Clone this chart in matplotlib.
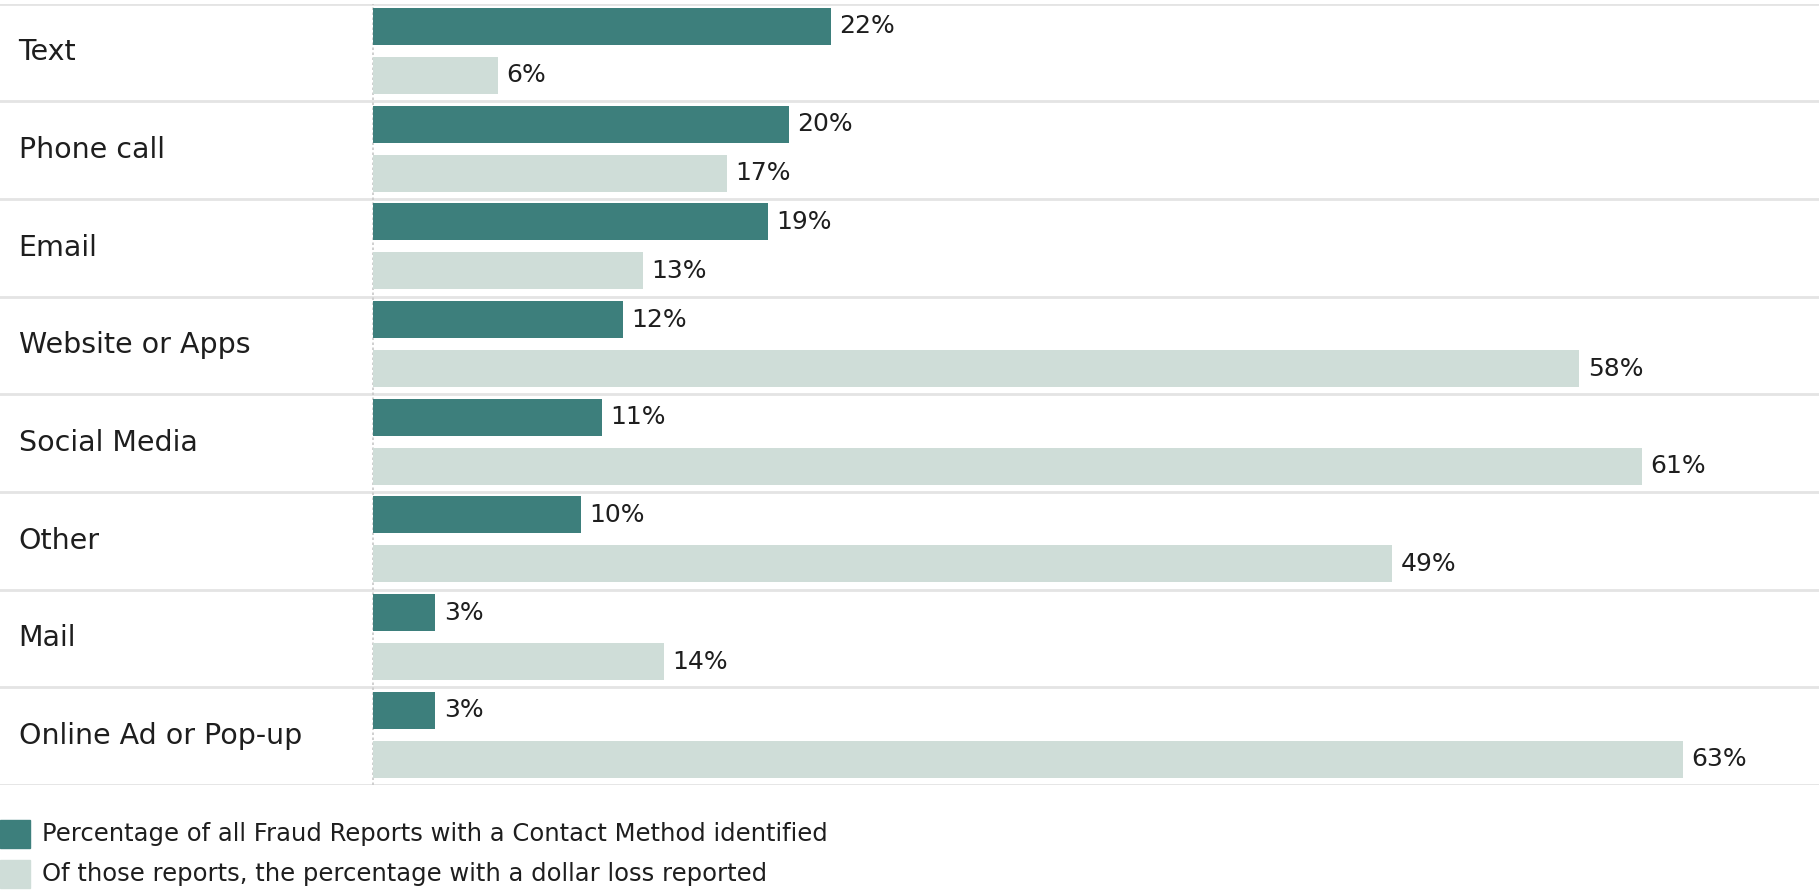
import matplotlib
matplotlib.use("Agg")
import matplotlib.pyplot as plt
from matplotlib.patches import Rectangle
from matplotlib.transforms import blended_transform_factory

categories = ["Text", "Phone call", "Email", "Website or Apps", "Social Media",
              "Other", "Mail", "Online Ad or Pop-up"]
pct_reports = [22, 20, 19, 12, 11, 10, 3, 3]
pct_loss = [6, 17, 13, 58, 61, 49, 14, 63]
series_names = ["Percentage of all Fraud Reports with a Contact Method identified",
                "Of those reports, the percentage with a dollar loss reported"]

DARK = "#3d7f7c"
LIGHT = "#cfddd8"
SEP = "#e4e4e4"
TXT = "#1e1e1e"

plt.rcParams['font.family'] = ['DejaVu Sans']

W, H = 1819, 890
fig = plt.figure(figsize=(W / 100, H / 100), dpi=100)

zero_px = 373.0
px_per = 20.8
xmin = -zero_px / px_per
xmax = (W - zero_px) / px_per

top_px, bot_px = 3.5, 785.0
ax = fig.add_axes([0, 1 - bot_px / H, 1, (bot_px - top_px) / H])
ax.set_xlim(xmin, xmax)
n = len(categories)
ax.set_ylim(n, 0)
ax.axis("off")

bh = 0.38
trans = blended_transform_factory(fig.transFigure, ax.transData)
for i, (cat, a, b) in enumerate(zip(categories, pct_reports, pct_loss)):
    ax.barh(i + 0.235, a, height=bh, left=0, color=DARK, zorder=3)
    ax.barh(i + 0.737, b, height=bh, left=0, color=LIGHT, zorder=3)
    ax.text(a + 0.4, i + 0.235, f"{a}%", va="center", ha="left",
            fontsize=18, color=TXT, zorder=4)
    ax.text(b + 0.4, i + 0.737, f"{b}%", va="center", ha="left",
            fontsize=18, color=TXT, zorder=4)
    ax.text(18.5 / W, i + 0.5, cat, transform=trans, va="center", ha="left",
            fontsize=20.5, color=TXT)

for k in range(n + 1):
    ax.axhline(k, color=SEP, lw=2, zorder=1)
ax.axvline(0, color="#c8c8c8", lw=1.2, ls=(0, (1.5, 1.5)), zorder=2)

# legend
for j, (name, col) in enumerate(zip(series_names, [DARK, LIGHT])):
    y0 = 820 + 40 * j
    fig.patches.append(Rectangle((0, 1 - (y0 + 28) / H), 30 / W, 28 / H,
                                 transform=fig.transFigure, color=col))
    fig.text(42 / W, 1 - (y0 + 14) / H, name, va="center", ha="left",
             fontsize=17.5, color=TXT)

fig.savefig("out.png", dpi=100)
